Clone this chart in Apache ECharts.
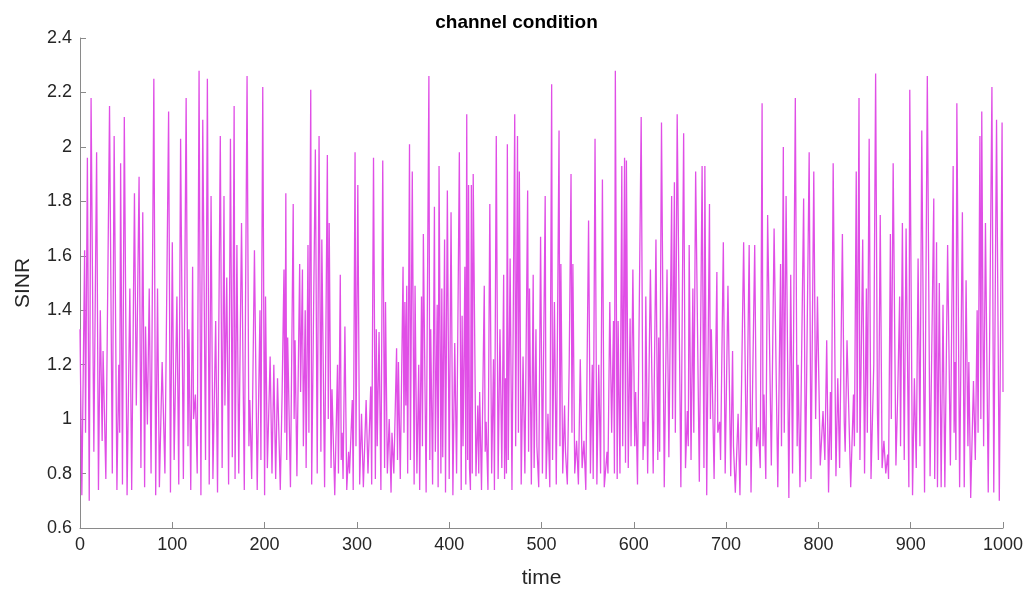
<!DOCTYPE html>
<html>
<head>
<meta charset="utf-8">
<title>channel condition</title>
<script src="https://cdn.jsdelivr.net/npm/echarts@6/dist/echarts.min.js"></script>
<style>
  html, body { margin: 0; padding: 0; background: #fff; }
  #chart { width: 1033px; height: 594px; }
</style>
</head>
<body>
<div id="chart"></div>
<script>
// time stamps of the visible peaks / troughs
const time = [
  0, 2, 5, 6, 8, 10, 12, 15, 18, 20, 22, 24, 25, 28, 32, 35, 37, 40, 42, 43, 44, 46, 48, 51, 54, 56, 59, 61, 64, 66, 68, 70, 71, 73, 75, 77, 80, 82,
  84, 86, 89, 92, 96, 98, 100, 102, 105, 107, 109, 112, 115, 117, 118, 120, 122, 123, 125, 127, 129, 131, 133, 136, 138, 140, 142, 144, 147, 149, 152, 154, 156, 157, 159, 161, 163, 165, 167, 168,
  170, 172, 175, 178, 181, 183, 184, 186, 189, 192, 195, 196, 198, 200, 201, 203, 206, 208, 210, 212, 214, 217, 219, 221, 222, 223, 224, 225, 228, 231, 232, 233, 235, 238, 239, 241, 242, 244, 245, 247, 248, 250, 251,
  255, 257, 259, 261, 262, 265, 268, 269, 270, 272, 273, 276, 279, 280, 282, 283, 284, 285, 287, 289, 291, 292, 295, 296, 298, 299, 301, 303, 305, 307, 310, 312, 315, 316, 318, 320, 321, 322, 324, 326, 328, 330, 331, 333, 335, 337,
  338, 340, 343, 344, 345, 347, 350, 351, 352, 353, 354, 355, 357, 358, 360, 362, 363, 365, 367, 368, 370, 371, 372, 375, 378, 379, 380, 382, 384, 385, 387, 388, 389, 391, 392, 393, 395, 396, 398, 400, 402, 404, 406, 408, 411, 413, 414, 415, 417, 418, 419, 420, 421, 422,
  423, 424, 425, 426, 429, 431, 432, 433, 435, 438, 439, 440, 442, 444, 446, 448, 449, 451, 453, 455, 457, 459, 460, 461, 462, 463, 464, 466, 468, 471, 472, 474, 475, 476, 478, 480, 482, 485, 486, 487, 489, 491, 492, 494, 495, 497, 499, 501, 504, 505,
  507, 509, 511, 512, 514, 516, 519, 520, 521, 523, 525, 526, 528, 530, 532, 533, 534, 536, 538, 540, 542, 544, 546, 548, 551, 553, 555, 556, 558, 560, 562, 564, 566, 568, 571, 572, 574, 576, 578, 579, 580, 582, 583, 585, 587, 588, 590, 591,
  592, 594, 596, 597, 599, 601, 602, 604, 608, 610, 611, 612, 613, 615, 618, 621, 624, 626, 627, 628, 630, 633, 636, 638, 641, 642, 644, 645, 647, 651, 654, 656, 658, 659, 660, 662, 664, 665, 667, 671, 674, 676,
  677, 679, 682, 683, 684, 687, 690, 691, 693, 694, 697, 699, 702, 705, 707, 708, 710, 713, 715, 719, 722, 725, 727, 731, 733, 735, 737, 739, 740, 741, 743, 745, 749, 752, 756, 759, 760,
  762, 763, 765, 768, 770, 772, 775, 777, 778, 780, 784, 786, 790, 792, 795, 797, 799, 802, 805, 807, 809, 811, 813, 814, 816, 819, 821, 823, 826, 828, 829, 831, 835, 838, 839, 841, 842, 844, 845,
  848, 850, 852, 853, 855, 857, 860, 862, 864, 865, 867, 869, 871, 873, 875, 876, 878, 879, 881, 884, 886, 888, 889, 891, 893, 895, 898, 899, 902, 904, 906, 908, 910, 912, 915, 918, 921, 925, 926, 928,
  929, 931, 933, 935, 937, 940, 943, 946, 947, 948, 949, 950, 953, 956, 958, 960, 962, 963, 965, 968, 970, 972, 973, 975, 976, 977, 979, 981, 984, 988, 990, 993, 996, 999, 1000
];

// SINR read at those time stamps
const sinr = [
  1.33, 0.72, 1.62, 0.95, 1.96, 0.70, 2.18, 0.88, 1.98, 0.74, 1.40, 0.92, 1.25, 0.78, 2.15, 0.80, 2.04, 0.74, 1.20, 0.95, 1.94, 0.76, 2.11, 0.72, 1.48, 0.74, 1.83, 1.05, 1.89, 0.82, 1.76, 0.75, 1.34, 0.98, 1.48, 0.80, 2.25, 0.72,
  1.48, 0.75, 1.21, 0.80, 2.13, 0.73, 1.65, 0.85, 1.45, 0.76, 2.03, 0.78, 2.18, 0.90, 1.33, 0.74, 1.56, 1.00, 1.09, 0.80, 2.28, 0.72, 2.10, 0.85, 2.25, 0.76, 1.82, 0.78, 1.36, 0.73, 2.04, 0.82, 1.82, 1.05, 1.52, 0.76, 2.03, 0.86, 2.15, 0.78,
  1.64, 0.80, 1.72, 0.74, 2.26, 0.90, 1.07, 0.78, 1.62, 0.74, 1.40, 0.85, 2.22, 0.72, 1.45, 0.82, 1.23, 0.80, 1.20, 0.78, 1.15, 0.74, 1.10, 1.55, 0.95, 1.83, 0.85, 1.30, 0.75, 1.79, 1.00, 1.29, 0.79, 1.57, 1.10, 1.55, 0.90, 1.40, 0.82, 1.64, 0.95, 2.21, 0.76,
  1.99, 0.80, 2.04, 0.88, 1.66, 0.75, 1.97, 1.00, 1.72, 0.82, 1.11, 0.72, 1.20, 0.80, 1.53, 0.85, 0.95, 0.78, 1.34, 0.74, 0.88, 0.80, 1.07, 0.74, 1.98, 0.90, 1.86, 0.76, 1.02, 0.75, 1.07, 0.80, 1.12, 0.76, 1.96, 0.78, 1.33, 0.90, 1.32, 0.74, 1.95, 0.82, 1.43, 0.80, 1.00, 0.73,
  0.95, 0.80, 1.26, 0.85, 1.21, 0.78, 1.56, 0.95, 1.43, 1.05, 1.49, 0.80, 2.01, 0.85, 1.91, 0.76, 1.49, 0.80, 1.20, 0.74, 1.45, 0.90, 1.68, 0.73, 2.26, 0.85, 1.33, 0.76, 1.78, 0.88, 1.42, 0.75, 1.93, 0.80, 1.48, 0.86, 1.66, 0.73, 1.84, 0.78, 1.76, 0.72, 1.28, 0.80, 1.98, 0.74, 1.38, 0.90, 1.56, 0.76, 2.12, 0.85, 1.86, 0.82,
  0.74, 1.86, 0.80, 1.90, 0.79, 1.05, 0.80, 1.10, 0.74, 1.49, 0.88, 0.99, 0.74, 1.79, 0.80, 1.22, 0.74, 2.04, 0.78, 1.33, 0.82, 1.53, 0.78, 1.15, 0.80, 2.01, 0.85, 1.59, 0.74, 2.12, 0.90, 2.04, 0.95, 1.91, 0.76, 1.23, 0.80, 1.84, 0.88, 1.48, 0.76, 1.53, 0.82, 1.33, 0.90, 0.75, 1.67, 0.80, 1.82, 0.78,
  1.02, 0.75, 2.23, 0.85, 1.43, 0.76, 2.06, 0.90, 1.57, 0.80, 1.05, 0.88, 0.76, 1.20, 1.90, 0.95, 1.57, 0.80, 0.92, 0.76, 1.22, 0.82, 0.92, 0.74, 1.73, 0.80, 1.20, 0.78, 2.03, 0.76, 1.20, 0.80, 1.88, 0.75, 0.88, 0.80, 1.43, 0.95, 1.36, 0.80, 2.28, 0.78, 1.36, 0.80, 1.93, 0.90, 1.96, 0.84,
  1.95, 0.82, 1.37, 0.90, 1.55, 0.90, 1.10, 0.76, 2.11, 0.85, 0.99, 0.90, 1.45, 0.80, 1.55, 0.80, 1.66, 0.85, 1.30, 0.88, 2.09, 0.75, 1.55, 0.86, 1.82, 1.00, 1.87, 0.95, 2.12, 0.75, 2.05, 0.82, 1.03, 0.90, 1.64, 0.85, 1.48, 0.95, 1.91, 0.77, 1.93, 0.82,
  1.93, 0.72, 1.79, 1.00, 1.33, 0.78, 1.54, 0.95, 0.99, 0.85, 1.65, 0.80, 1.49, 0.79, 1.25, 0.90, 0.73, 1.02, 0.72, 1.65, 0.83, 1.64, 0.73, 1.64, 0.90, 0.97, 0.82, 2.16, 0.90, 1.09, 0.78, 1.75, 0.83, 1.70, 0.75, 1.57, 0.90,
  2.00, 0.95, 1.82, 0.71, 1.53, 0.80, 2.18, 0.90, 1.20, 0.75, 1.81, 0.77, 1.98, 0.78, 1.91, 1.00, 1.45, 0.83, 1.03, 0.85, 1.29, 0.73, 1.10, 0.85, 1.94, 0.79, 1.15, 0.82, 1.68, 0.99, 0.88, 1.29, 0.75, 1.09, 0.90, 1.91, 0.95, 2.18, 0.85,
  1.66, 0.80, 1.48, 0.95, 2.03, 0.78, 1.20, 2.27, 1.02, 0.85, 1.75, 0.82, 0.92, 0.80, 0.87, 0.78, 1.68, 1.00, 1.94, 0.83, 1.10, 1.45, 0.90, 1.72, 0.85, 1.70, 0.75, 2.21, 0.72, 1.15, 0.82, 1.59, 0.90, 2.06, 0.73, 2.26, 0.79, 1.81, 0.78, 1.65,
  0.75, 1.50, 0.75, 1.42, 0.75, 1.64, 0.83, 1.93, 0.95, 1.21, 0.85, 2.16, 0.75, 1.76, 0.75, 1.51, 0.90, 1.21, 0.71, 1.14, 0.85, 1.40, 0.95, 2.04, 1.00, 2.13, 0.90, 1.72, 0.73, 2.22, 0.73, 2.10, 0.70, 2.09, 1.10
];

// tick labels of the two axes
const xTicks = [0, 100, 200, 300, 400, 500, 600, 700, 800, 900, 1000];
const yTicks = [0.6, 0.8, 1, 1.2, 1.4, 1.6, 1.8, 2, 2.2, 2.4];

const myChart = echarts.init(document.getElementById("chart"));

const axisColor = "#8a8a8a";
const labelColor = "#262626";
const fontFamily = "Liberation Sans, Arial, sans-serif";

const option = {
  animation: false,
  title: {
    text: "channel condition",
    left: "center",
    top: 8,
    textStyle: { fontSize: 19, fontWeight: "bold", color: "#000", fontFamily: fontFamily },
  },
  grid: { left: 80, right: 30, top: 38, bottom: 64 },
  xAxis: {
    type: "value",
    min: xTicks[0],
    max: xTicks[xTicks.length - 1],
    interval: 100,
    name: "time",
    nameLocation: "middle",
    nameGap: 40,
    nameTextStyle: { fontSize: 21, color: labelColor, fontFamily: fontFamily },
    axisLine: { show: true, lineStyle: { color: axisColor, width: 1 } },
    axisTick: { show: true, inside: true, length: 6, lineStyle: { color: axisColor } },
    axisLabel: {
      fontSize: 18,
      color: labelColor,
      margin: 8,
      fontFamily: fontFamily,
      formatter: v => String(v),
    },
    splitLine: { show: false },
  },
  yAxis: {
    type: "value",
    min: yTicks[0],
    max: yTicks[yTicks.length - 1],
    interval: 0.2,
    name: "SINR",
    nameLocation: "middle",
    nameGap: 46,
    nameTextStyle: { fontSize: 21, color: labelColor, fontFamily: fontFamily },
    axisLine: { show: true, lineStyle: { color: axisColor, width: 1 } },
    axisTick: { show: true, inside: true, length: 6, lineStyle: { color: axisColor } },
    axisLabel: {
      fontSize: 18,
      color: labelColor,
      margin: 8,
      fontFamily: fontFamily,
      formatter: v => String(Math.round(v * 10) / 10),
    },
    splitLine: { show: false },
  },
  series: [
    {
      type: "line",
      data: time.map((t, i) => [t, sinr[i]]),
      showSymbol: false,
      lineStyle: { color: "#e04ee6", width: 1.3 },
    },
  ],
};

myChart.setOption(option);
</script>
</body>
</html>
